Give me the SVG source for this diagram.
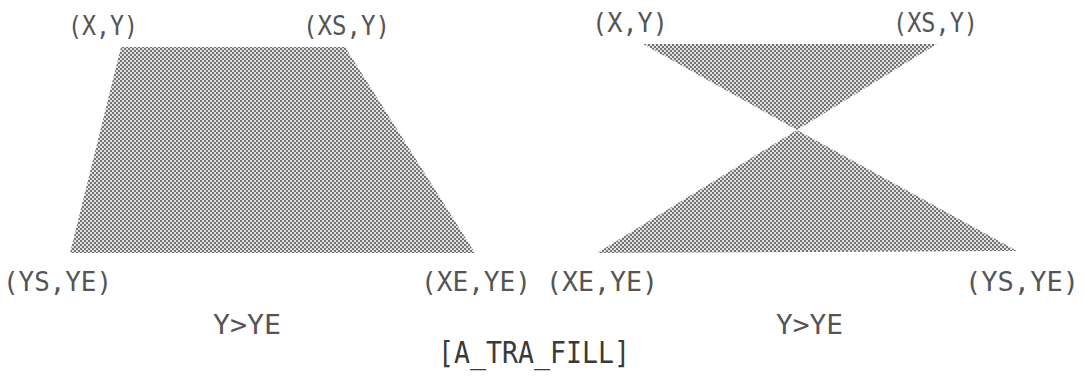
<svg xmlns="http://www.w3.org/2000/svg" width="1084" height="378" viewBox="0 0 1084 378">
<style>
.lbl{font-family:"DejaVu Sans Mono","Liberation Mono",monospace;font-size:27px;fill:#555555}
.ttl{font-family:"DejaVu Sans Mono","Liberation Mono",monospace;font-size:31px;fill:#3a3a3a}
.fill{fill:url(#dither)}
</style>
<defs>
<pattern id="dither" patternUnits="userSpaceOnUse" width="4" height="4">
<rect width="4" height="4" fill="#e2e2e2"/>
<rect x="0" y="0" width="2" height="2" fill="#747474"/>
<rect x="2" y="2" width="2" height="2" fill="#747474"/>
</pattern>
</defs>
<rect width="1084" height="378" fill="#ffffff"/>
<g id="trapezoid">
<polygon class="fill" points="121,47 345,47 475,253 70,253"/>
</g>
<g id="hourglass">
<polygon class="fill" points="643,44 937,44 797,130"/>
<polygon class="fill" points="797,130 1017,251 597,253"/>
</g>
<g id="labels-left">
<text class="lbl" x="68" y="35" textLength="70" lengthAdjust="spacingAndGlyphs">(X,Y)</text>
<text class="lbl" x="303" y="35" textLength="87" lengthAdjust="spacingAndGlyphs">(XS,Y)</text>
<text class="lbl" x="3" y="291" textLength="109" lengthAdjust="spacingAndGlyphs">(YS,YE)</text>
<text class="lbl" x="421" y="291" textLength="110" lengthAdjust="spacingAndGlyphs">(XE,YE)</text>
<text class="lbl" x="213" y="334" textLength="68" lengthAdjust="spacingAndGlyphs">Y&gt;YE</text>
</g>
<g id="labels-right">
<text class="lbl" x="592" y="32" textLength="76" lengthAdjust="spacingAndGlyphs">(X,Y)</text>
<text class="lbl" x="893" y="32" textLength="85" lengthAdjust="spacingAndGlyphs">(XS,Y)</text>
<text class="lbl" x="546" y="291" textLength="112" lengthAdjust="spacingAndGlyphs">(XE,YE)</text>
<text class="lbl" x="965" y="291" textLength="114" lengthAdjust="spacingAndGlyphs">(YS,YE)</text>
<text class="lbl" x="776" y="334" textLength="67" lengthAdjust="spacingAndGlyphs">Y&gt;YE</text>
</g>
<g id="title">
<text class="ttl" x="438" y="363" textLength="192" lengthAdjust="spacingAndGlyphs">[A_TRA_FILL]</text>
</g>
</svg>
